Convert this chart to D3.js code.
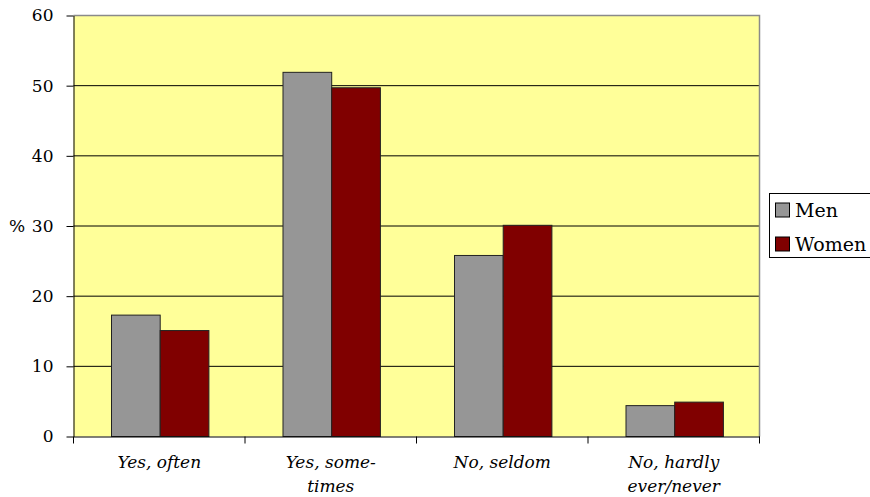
<!DOCTYPE html>
<html>
<head>
<meta charset="utf-8">
<script src="https://cdn.jsdelivr.net/npm/d3@7"></script>
<style>
  html, body { margin: 0; padding: 0; background: #fff; }
  svg { display: block; }
</style>
</head>
<body>
<svg id="chart" width="870" height="497"></svg>
<script>
// Survey answers, in percent
const categories = ["Yes, often", "Yes, some-\ntimes", "No, seldom", "No, hardly\never/never"];
const seriesNames = ["Men", "Women"];
const men = [17.3, 51.9, 25.8, 4.4];
const women = [15.1, 49.7, 30.1, 4.9];
const yTicks = [0, 10, 20, 30, 40, 50, 60];
const colors = ["#969696", "#800000"];

const FONT = "DejaVu Serif";

const svg = d3.select("#chart");
const plotLeft = 73.5, plotRight = 759.5, plotTop = 15.5, plotBottom = 436.5;

const x = d3.scaleBand().domain(d3.range(categories.length)).range([plotLeft, plotRight]);
const inner = d3.scaleBand().domain(seriesNames).range([38, 38 + 97.4]);
const y = d3.scaleLinear().domain([0, 60]).range([plotBottom, plotTop]);

// plot background
svg.append("rect")
  .attr("x", plotLeft).attr("y", plotTop)
  .attr("width", plotRight - plotLeft).attr("height", plotBottom - plotTop)
  .attr("fill", "#FFFF99");

// gridlines
svg.append("g").selectAll("line")
  .data(yTicks.filter(d => d > 0 && d < 60))
  .join("line")
  .attr("x1", plotLeft).attr("x2", plotRight)
  .attr("y1", d => y(d)).attr("y2", d => y(d))
  .attr("stroke", "#000").attr("stroke-width", 1);

// top and right border
svg.append("path")
  .attr("d", `M${plotLeft},${plotTop}H${plotRight}V${plotBottom}`)
  .attr("fill", "none").attr("stroke", "#8a8a8a").attr("stroke-width", 1.5);

// bars
const rows = categories.map((c, i) => ({ i, values: [men[i], women[i]] }));
const groups = svg.append("g").selectAll("g")
  .data(rows).join("g")
  .attr("transform", d => `translate(${x(d.i)},0)`);
groups.selectAll("rect")
  .data(d => d.values.map((v, k) => ({ k, v })))
  .join("rect")
  .attr("x", d => inner(seriesNames[d.k]))
  .attr("width", inner.bandwidth())
  .attr("y", d => y(d.v))
  .attr("height", d => y(0) - y(d.v))
  .attr("fill", d => colors[d.k])
  .attr("stroke", "#222").attr("stroke-width", 1);

// y axis
const yAxis = d3.axisLeft(y).tickValues(yTicks).tickSize(7).tickPadding(13).tickSizeOuter(0);
const gy = svg.append("g").attr("transform", `translate(${plotLeft},0)`).call(yAxis)
  .attr("font-size", 17).attr("font-family", FONT);
gy.select(".domain").attr("stroke", "#000");
gy.selectAll(".tick line").attr("stroke", "#000");
gy.selectAll(".tick text").attr("fill", "#000");

// y axis title
svg.append("text")
  .attr("x", 9).attr("y", y(30))
  .attr("dy", "0.35em")
  .attr("font-size", 17).attr("font-family", FONT)
  .text("%");

// x axis
const xAxis = d3.axisBottom(x).tickValues([]).tickSizeOuter(0);
const gx = svg.append("g").attr("transform", `translate(0,${plotBottom})`).call(xAxis);
gx.select(".domain").attr("stroke", "#000");
svg.append("g").selectAll("line")
  .data(d3.range(categories.length + 1))
  .join("line")
  .attr("x1", d => plotLeft + d * x.step()).attr("x2", d => plotLeft + d * x.step())
  .attr("y1", plotBottom).attr("y2", plotBottom + 7)
  .attr("stroke", "#000");

// category labels
svg.append("g").selectAll("text")
  .data(categories.map((c, i) => ({ c, i })))
  .join("text")
  .attr("x", d => x(d.i) + x.bandwidth() / 2)
  .attr("y", 468)
  .attr("text-anchor", "middle")
  .attr("font-size", 17).attr("font-family", FONT)
  .attr("font-style", "italic")
  .each(function (d) {
    const t = d3.select(this);
    d.c.split("\n").forEach((line, j) => {
      t.append("tspan").attr("x", x(d.i) + x.bandwidth() / 2)
        .attr("dy", j === 0 ? 0 : 24).text(line);
    });
  });

// legend
const lg = svg.append("g");
lg.append("rect")
  .attr("x", 769.5).attr("y", 193.5)
  .attr("width", 110).attr("height", 64)
  .attr("fill", "#fff").attr("stroke", "#000");
seriesNames.forEach((name, k) => {
  const cy = 210 + k * 34;
  lg.append("rect")
    .attr("x", 775.5).attr("y", cy - 7)
    .attr("width", 14).attr("height", 14)
    .attr("fill", colors[k]).attr("stroke", "#000");
  lg.append("text")
    .attr("x", 795).attr("y", cy)
    .attr("dy", "0.35em")
    .attr("font-size", 19).attr("font-family", FONT)
    .text(name);
});
</script>
</body>
</html>
